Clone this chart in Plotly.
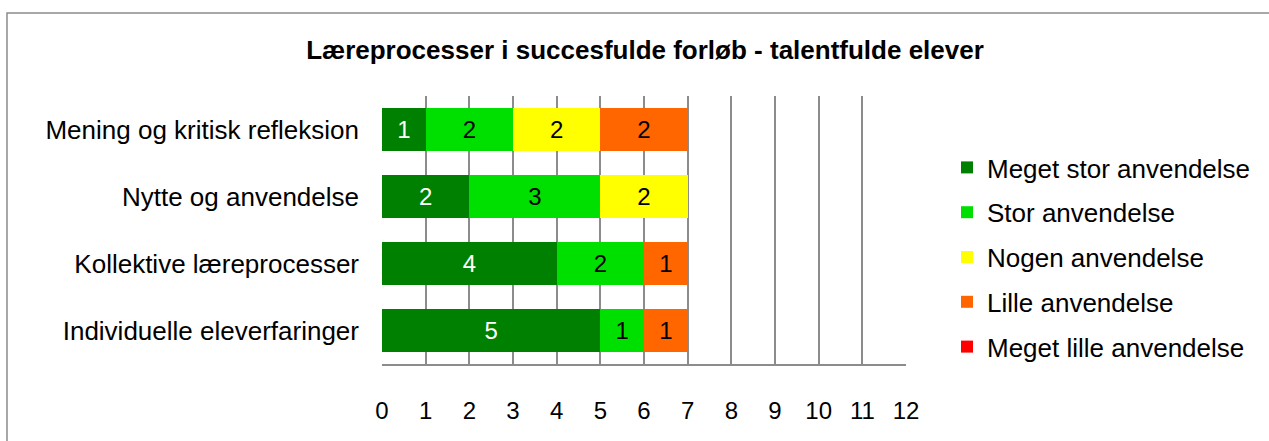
import plotly.graph_objects as go

categories = ["Individuelle eleverfaringer", "Kollektive læreprocesser",
              "Nytte og anvendelse", "Mening og kritisk refleksion"]
series_names = ["Meget stor anvendelse", "Stor anvendelse", "Nogen anvendelse",
                "Lille anvendelse", "Meget lille anvendelse"]
meget_stor = [5, 4, 2, 1]
stor = [1, 2, 3, 2]
nogen = [0, 0, 2, 2]
lille = [1, 1, 0, 2]
meget_lille = [0, 0, 0, 0]
colors = ["#008000", "#00E000", "#FFFF00", "#FF6600", "#FF0000"]
text_colors = ["white", "black", "black", "black", "black"]
x_ticks = list(range(0, 13))

series_values = [meget_stor, stor, nogen, lille, meget_lille]

FONT = "Liberation Sans, Arial, sans-serif"
FS = 26
fig = go.Figure()
for i, (name, vals) in enumerate(zip(series_names, series_values)):
    fig.add_trace(go.Bar(
        y=categories, x=vals, name=name, orientation="h",
        marker=dict(color=colors[i], line=dict(width=0)),
        text=[str(v) if v else "" for v in vals],
        textposition="inside", insidetextanchor="middle",
        textfont=dict(color=text_colors[i], size=24, family=FONT),
        legendgroup=name,
    ))

L, R, T, B = 382, 1269 - 906, 96, 441 - 364
W, H = 1269, 441
pw, ph = W - L - R, H - T - B

def px_x(px):
    return (px - L) / pw

def px_y(py):
    return (H - B - py) / ph

fig.update_layout(
    width=W, height=H,
    margin=dict(l=L, r=R, t=T, b=B, autoexpand=False),
    barmode="stack", bargap=0.37,
    plot_bgcolor="white", paper_bgcolor="white",
    font=dict(family=FONT, size=FS, color="black"),
    title=dict(text="<b>Læreprocesser i succesfulde forløb - talentfulde elever</b>",
               x=(645) / W, xanchor="center", y=1 - 50 / H, yanchor="middle",
               font=dict(size=26, family=FONT, color="black")),
    xaxis=dict(range=[0, 12], tickvals=x_ticks, showgrid=True, gridcolor="#8c8c8c",
               gridwidth=1.5, showline=True, linecolor="#8c8c8c", linewidth=1.5,
               ticks="", ticklabelstandoff=24, zeroline=False, fixedrange=True,
               tickfont=dict(size=24, family=FONT, color="black")),
    yaxis=dict(showgrid=False, showline=False, ticks="", ticklabelstandoff=22,
               tickfont=dict(size=FS, family=FONT, color="black"),
               categoryorder="array", categoryarray=categories, fixedrange=True),
    legend=dict(x=px_x(947), xanchor="left", y=px_y(144), yanchor="top",
                traceorder="grouped", tracegroupgap=8,
                font=dict(size=FS, family=FONT, color="black"),
                bgcolor="rgba(0,0,0,0)"),
    showlegend=True,
)
fig.add_shape(type="rect", xref="paper", yref="paper",
              x0=px_x(7), x1=px_x(1275), y0=px_y(450), y1=px_y(13),
              line=dict(color="#8c8c8c", width=1.5), layer="below")

fig.write_html("out.html", config={"displayModeBar": False},
               post_script="document.body.style.margin='0';")
